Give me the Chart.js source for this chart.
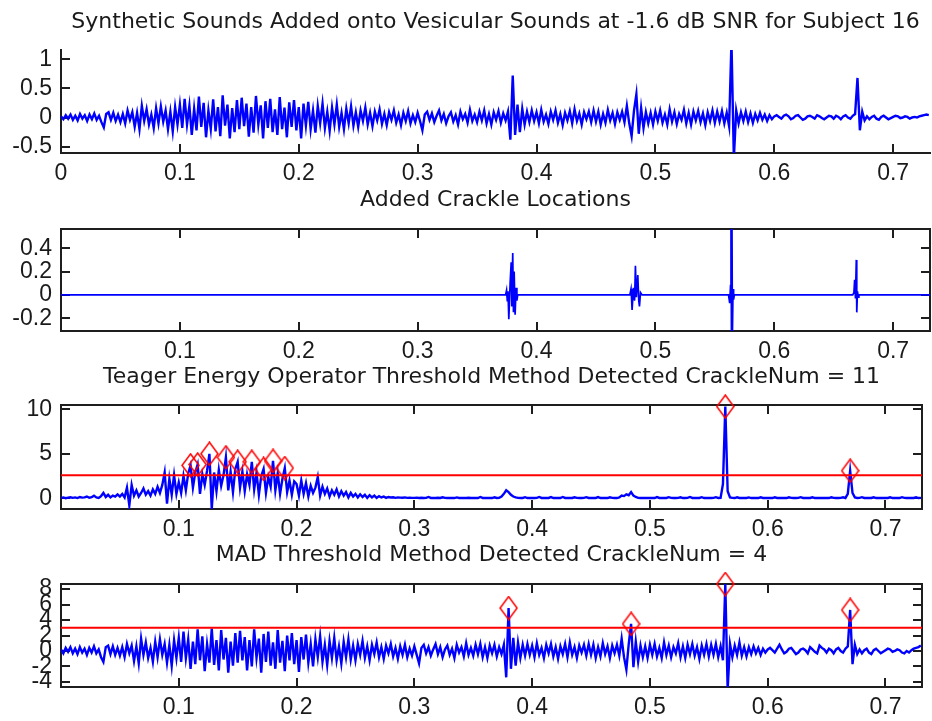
<!DOCTYPE html>
<html lang="en">
<head>
<meta charset="UTF-8">
<title>Crackle detection on vesicular sounds</title>
<script src="https://cdn.jsdelivr.net/npm/chart.js"></script>
<style>
  html, body { margin: 0; padding: 0; background: #ffffff; overflow: hidden; }
  canvas { position: absolute; left: 0; }
</style>
</head>
<body>
<canvas id="mixChart" width="932" height="186" style="top:0px"></canvas>
<canvas id="crackleChart" width="932" height="180" style="top:186px"></canvas>
<canvas id="teoChart" width="932" height="178" style="top:366px"></canvas>
<canvas id="madChart" width="932" height="177" style="top:544px"></canvas>

<script>
// sample spacing (s) of the hand-read traces below, 25 samples per row = 0.05 s
const dt = 0.002;

// panel 1: crackles added onto vesicular sound
const mixedSignal = [
  0.02,-0.03,0.04,-0.02,0.05,-0.04,0.03,-0.05,0.06,-0.02,0.04,-0.06,0.05,-0.03,0.07,-0.04,0.03,-0.08,-0.17,0.06,0.09,-0.04,0.08,-0.06,0.05,
  -0.08,0.06,-0.1,0.12,-0.04,0.09,-0.16,0.08,-0.2,0.2,-0.06,0.14,-0.12,0.05,-0.18,0.16,-0.1,0.19,-0.07,0.12,-0.2,0.1,-0.24,0.18,-0.12,
  0.22,-0.18,0.32,-0.12,0.2,-0.3,0.15,-0.22,0.36,-0.16,0.25,-0.34,0.12,-0.2,0.31,-0.24,0.18,-0.32,0.38,-0.14,0.22,-0.36,0.16,-0.25,0.3,
  -0.2,0.34,-0.15,0.24,-0.33,0.18,-0.26,0.37,-0.12,0.21,-0.36,0.28,-0.18,0.32,-0.25,0.14,-0.3,0.35,-0.2,0.17,-0.34,0.26,-0.16,0.3,-0.22,
  0.18,-0.36,0.24,-0.14,0.27,-0.2,0.12,-0.26,0.2,-0.1,0.24,-0.18,0.1,-0.23,0.17,-0.12,0.22,-0.16,0.08,-0.2,0.15,-0.1,0.19,-0.14,0.09,
  -0.16,0.12,-0.06,0.17,-0.12,0.08,-0.15,0.1,-0.05,0.14,-0.11,0.06,-0.13,0.09,-0.04,0.12,-0.09,0.05,-0.13,0.08,-0.06,0.11,-0.1,0.04,-0.08,
  0.08,-0.06,-0.22,0.05,0.1,-0.04,0.07,-0.08,0.03,0.12,-0.05,0.06,-0.1,0.02,0.09,-0.07,0.04,-0.12,0.1,-0.03,0.06,-0.09,0.13,-0.06,0.05,
  -0.08,0.1,-0.05,0.12,-0.1,0.06,-0.12,0.09,-0.04,0.11,-0.09,0.07,-0.05,0.1,-0.38,0.72,-0.3,0.22,-0.25,0.15,-0.12,0.1,-0.08,0.12,-0.06,
  0.09,-0.1,0.13,-0.07,0.05,-0.11,0.1,-0.04,0.12,-0.09,0.06,-0.13,0.08,-0.05,0.11,-0.1,0.14,-0.06,0.07,-0.12,0.09,-0.03,0.1,-0.08,0.12,
  -0.07,0.1,-0.12,0.06,-0.09,0.13,-0.05,0.08,-0.11,0.09,-0.04,0.1,-0.08,0.2,-0.1,-0.32,0.12,0.4,-0.28,0.16,-0.18,0.09,-0.1,0.08,-0.12,
  0.1,-0.06,0.12,-0.09,0.05,-0.12,0.14,-0.07,0.09,-0.11,0.06,-0.04,0.13,-0.1,0.08,-0.12,0.1,-0.05,0.11,-0.08,0.07,-0.13,0.09,-0.06,0.12,
  -0.09,0.1,-0.07,0.11,-0.1,0.08,-0.15,1.3,-0.7,0.12,-0.1,0.09,-0.06,0.1,-0.08,0.07,-0.09,0.06,-0.05,0.08,-0.04,0.05,-0.06,0.04,-0.03,
  0.02,0.04,0.01,-0.02,0.03,0.05,0.02,-0.03,-0.01,0.03,0.04,0.0,-0.04,-0.02,0.02,0.03,0.01,-0.02,0.04,0.02,-0.01,-0.03,0.0,0.03,0.02,
  -0.02,0.03,0.01,-0.03,0.02,0.04,0.0,-0.02,0.03,0.06,0.68,-0.22,0.1,-0.05,0.02,-0.03,0.01,0.03,-0.02,-0.04,0.01,0.03,0.0,-0.03,-0.01,
  0.01,0.03,0.02,-0.01,0.0,0.02,0.01,-0.02,0.0,0.01,0.0,0.02,0.03,0.04,0.05,0.04
];

// panel 2: the synthetic crackles alone (time, amplitude)
const crackleT = [0,
  0.3740,0.3748,0.3754,0.3760,0.3767,0.3778,0.3787,0.3792,0.3800,0.3806,0.3812,0.3820,0.3828,0.3835,0.3842,
  0.4785,0.4795,0.4800,0.4804,0.4815,0.4825,0.4832,0.4840,0.4852,0.4860,0.4866,0.4875,0.4888,
  0.5615,0.5625,0.5632,0.5636,0.5640,0.5644,0.5648,0.5653,0.5658,0.5664,
  0.6660,0.6670,0.6676,0.6683,0.6690,0.6694,0.6700,0.6706,0.6712,
  0.731];
const crackleY = [0,
  0,0.04,-0.05,0.03,-0.21,0.1,0.28,-0.1,0.36,-0.15,0.2,-0.17,0.06,-0.05,0,
  0,0.05,-0.04,-0.13,0.06,-0.05,0.25,-0.02,0.17,-0.05,-0.1,0.02,0,
  0,-0.07,0.08,0.7,-0.4,0.7,-0.35,0.05,-0.04,0,
  0,0.02,0.13,-0.03,0.3,-0.15,0.03,-0.02,0,
  0];

// panel 3: Teager energy operator output
const teoSignal = [
  0.05,0.1,0.02,0.08,0.12,0.05,0.1,0.03,0.15,0.08,0.1,0.2,0.06,0.12,0.3,0.1,0.05,0.25,0.6,0.15,0.4,0.1,0.3,0.2,0.45,
  0.2,0.5,0.1,1.2,-0.8,1.5,0.3,0.9,0.2,0.6,1.1,0.4,0.8,0.3,1.0,0.5,1.3,0.6,1.5,2.9,-0.6,2.2,0.4,2.6,0.5,
  1.8,0.6,2.5,0.9,2.8,3.7,1.2,2.9,3.8,0.5,2.7,1.5,3.1,5.0,-1.2,2.9,0.8,3.2,1.4,2.6,4.6,0.9,3.0,0.7,3.3,
  4.1,1.2,3.0,0.8,2.7,1.5,4.1,1.0,2.9,0.4,2.5,3.3,0.6,2.4,1.3,4.2,0.9,2.8,0.5,2.2,3.4,0.7,2.0,0.4,1.9,
  1.6,0.3,2.0,0.5,1.7,0.2,1.4,0.6,1.2,2.4,0.3,1.3,0.5,1.1,0.2,0.9,0.4,1.0,0.2,0.8,0.3,0.7,0.1,0.6,0.2,
  0.5,0.1,0.45,0.15,0.4,0.05,0.35,0.1,0.3,0.05,0.25,0.1,0.2,0.05,0.15,0.1,0.12,0.05,0.1,0.08,0.06,0.1,0.05,0.08,0.05,
  0.05,0.08,0.04,0.06,0.03,0.05,0.15,0.04,0.05,0.03,0.06,0.04,0.12,0.05,0.03,0.04,0.05,0.03,0.1,0.04,0.05,0.03,0.04,0.06,0.03,
  0.04,0.05,0.03,0.15,0.04,0.03,0.05,0.04,0.03,0.12,0.04,0.05,0.2,0.5,0.9,0.7,0.4,0.2,0.1,0.05,0.03,0.04,0.13,0.03,0.05,
  0.04,0.03,0.05,0.15,0.04,0.03,0.05,0.04,0.14,0.03,0.05,0.04,0.03,0.15,0.04,0.05,0.03,0.04,0.12,0.05,0.03,0.04,0.05,0.13,0.04,
  0.03,0.05,0.04,0.14,0.03,0.05,0.04,0.03,0.12,0.05,0.04,0.03,0.1,0.3,0.25,0.45,0.35,0.7,0.3,0.15,0.05,0.04,0.03,0.05,0.04,
  0.05,0.04,0.03,0.14,0.04,0.05,0.03,0.04,0.13,0.05,0.03,0.04,0.05,0.12,0.03,0.04,0.05,0.15,0.04,0.03,0.05,0.04,0.13,0.03,0.05,
  0.04,0.03,0.05,0.13,0.04,0.05,1.6,10.3,0.8,0.1,0.05,0.03,0.12,0.04,0.05,0.03,0.04,0.1,0.03,0.05,0.04,0.03,0.12,0.04,0.05,
  0.04,0.05,0.03,0.12,0.04,0.03,0.05,0.04,0.03,0.12,0.05,0.04,0.03,0.05,0.13,0.04,0.03,0.05,0.04,0.12,0.03,0.05,0.04,0.03,0.05,
  0.04,0.03,0.12,0.05,0.04,0.03,0.05,0.12,0.04,0.5,3.1,0.6,0.1,0.04,0.05,0.13,0.04,0.03,0.05,0.04,0.12,0.03,0.05,0.04,0.03,
  0.05,0.04,0.12,0.03,0.05,0.04,0.03,0.13,0.05,0.04,0.03,0.05,0.04,0.12,0.03,0.05
];
const teoThreshold = 2.6;
const teoPeakT = [0.110, 0.116, 0.126, 0.140, 0.150, 0.162, 0.172, 0.180, 0.190, 0.564, 0.670];
const teoPeakY = [3.7, 3.8, 5.0, 4.6, 4.1, 4.1, 3.3, 4.2, 3.4, 10.3, 3.1];

// panel 4: MAD-normalised signal
const madSignal = [
  0.2,-0.3,0.4,-0.1,0.5,-0.3,0.3,-0.4,0.5,-0.2,0.3,-0.5,0.4,-0.2,0.6,-0.3,0.2,-0.8,-1.4,0.5,0.7,-0.4,0.6,-0.5,0.4,
  -0.6,0.5,-0.8,0.9,-0.3,0.7,-1.3,0.6,-1.6,1.6,-0.5,1.1,-0.9,0.4,-1.4,1.2,-0.8,1.5,-0.5,0.9,-1.5,0.8,-1.9,1.4,-0.9,
  1.7,-1.4,2.5,-0.9,1.5,-2.3,1.2,-1.7,2.8,-1.2,1.9,-2.6,0.9,-1.5,2.9,-1.8,1.4,-2.5,2.7,-1.1,1.7,-2.8,1.2,-1.9,2.3,
  -1.5,2.6,-1.2,1.8,-2.5,1.4,-2.0,2.8,-0.9,1.6,-2.8,2.2,-1.4,2.5,-1.9,1.1,-2.3,2.7,-1.5,1.3,-2.6,2.0,-1.2,2.3,-1.7,
  1.4,-2.7,1.8,-1.1,2.1,-1.5,0.9,-2.0,1.5,-0.8,1.9,-1.4,0.8,-1.8,1.3,-0.9,1.7,-1.2,0.6,-1.6,1.2,-0.8,1.5,-1.1,0.7,
  -1.2,0.9,-0.5,1.3,-0.9,0.6,-1.2,0.8,-0.4,1.1,-0.8,0.5,-1.0,0.7,-0.3,0.9,-0.7,0.4,-1.0,0.6,-0.5,0.8,-0.8,0.3,-0.6,
  0.6,-0.5,-1.6,0.4,0.8,-0.3,0.5,-0.6,0.2,0.9,-0.4,0.5,-0.8,0.2,0.7,-0.5,0.3,-0.9,0.8,-0.2,0.5,-0.7,1.0,-0.5,0.4,
  -0.6,0.8,-0.4,0.9,-0.8,0.5,-0.9,0.7,-0.3,0.8,-0.7,0.5,-0.4,0.8,-3.4,5.55,-2.3,1.7,-1.9,1.1,-0.9,0.8,-0.6,0.9,-0.5,
  0.7,-0.8,1.0,-0.5,0.4,-0.9,0.8,-0.3,0.9,-0.7,0.5,-1.0,0.6,-0.4,0.9,-0.8,1.1,-0.5,0.5,-0.9,0.7,-0.2,0.8,-0.6,0.9,
  -0.5,0.8,-0.9,0.5,-0.7,1.0,-0.4,0.6,-0.9,0.7,-0.3,0.8,-0.6,1.6,-0.8,-2.4,0.9,3.5,-2.1,1.2,-1.4,0.7,-0.8,0.6,-0.9,
  0.8,-0.5,0.9,-0.7,0.4,-0.9,1.1,-0.5,0.7,-0.8,0.5,-0.3,1.0,-0.8,0.6,-0.9,0.8,-0.4,0.9,-0.6,0.5,-1.0,0.7,-0.5,0.9,
  -0.7,0.8,-0.5,0.9,-0.8,0.6,-1.2,8.65,-5.0,0.9,-0.8,0.7,-0.5,1.1,-0.6,0.5,-0.7,0.5,-0.4,0.6,-0.3,0.4,-0.5,0.3,-0.2,
  0.2,0.4,0.1,-0.2,0.3,0.8,0.2,-0.3,-0.1,0.3,0.4,0.0,-0.4,-0.2,0.2,0.3,0.1,-0.3,0.5,0.2,-0.1,-0.3,0.7,0.4,0.2,
  -0.2,0.3,0.1,-0.3,0.2,0.4,0.0,-0.2,0.3,0.6,5.3,-1.7,0.8,-0.4,0.2,-0.3,0.1,0.3,-0.2,-0.4,0.1,0.3,0.0,-0.3,-0.1,
  0.1,0.3,0.2,-0.1,0.0,0.2,0.1,-0.2,-0.3,0.0,-0.2,0.1,0.3,0.4,0.5,0.7
];
const madThreshold = 3.0;
const madPeakT = [0.380, 0.484, 0.564, 0.670];
const madPeakY = [5.55, 3.5, 8.65, 5.3];

// axes
const X_MIN = 0, X_MAX = 0.731;
const xTicksFirst = [0, 0.1, 0.2, 0.3, 0.4, 0.5, 0.6, 0.7];
const xTicks = [0.1, 0.2, 0.3, 0.4, 0.5, 0.6, 0.7];
const yTicksMixed = [-0.5, 0, 0.5, 1];
const yTicksCrackle = [-0.2, 0, 0.2, 0.4];
const yTicksTeo = [0, 5, 10];
const yTicksMad = [-4, -2, 0, 2, 4, 6, 8];

const titles = [
  'Synthetic Sounds Added onto Vesicular Sounds at -1.6 dB SNR for Subject 16',
  'Added Crackle Locations',
  'Teager Energy Operator Threshold Method Detected CrackleNum = 11',
  'MAD Threshold Method Detected CrackleNum = 4'
];

const BLUE = '#0000ff';
const RED = '#ff0000';
const AXIS_COLOR = '#1e1e1e';
const TEXT_COLOR = '#1a1a1a';
const TICK_LEN = 9;
const TICK_FONT = { family: "'Liberation Sans', Arial, sans-serif", size: 23 };
const TITLE_FONT = { family: "'DejaVu Sans', sans-serif", size: 22, weight: 'normal', lineHeight: 1 };

function toPoints(values) {
  return values.map((v, i) => ({ x: i * dt, y: v }));
}
function pairPoints(ts, ys) {
  return ts.map((t, i) => ({ x: t, y: ys[i] }));
}

// hollow red diamond, taller than wide like the matlab 'd' marker
function diamondMarker(w, h) {
  const c = document.createElement('canvas');
  c.width = w; c.height = h;
  const g = c.getContext('2d');
  g.strokeStyle = RED;
  g.lineWidth = 1.5;
  g.beginPath();
  g.moveTo(w / 2, 1);
  g.lineTo(w - 1, h / 2);
  g.lineTo(w / 2, h - 1);
  g.lineTo(1, h / 2);
  g.closePath();
  g.stroke();
  return c;
}
const DIAMOND = diamondMarker(19, 25);

// matlab style tick marks pointing into the axes box, on every axis of the chart
const inwardTicks = {
  id: 'inwardTicks',
  beforeDatasetsDraw(chart) {
    const ctx = chart.ctx;
    ctx.save();
    ctx.strokeStyle = AXIS_COLOR;
    ctx.lineWidth = 2;
    Object.values(chart.scales).forEach(scale => {
      scale.ticks.forEach(t => {
        const p = Math.round(scale.getPixelForValue(t.value));
        ctx.beginPath();
        if (scale.position === 'bottom') { ctx.moveTo(p, scale.top); ctx.lineTo(p, scale.top - TICK_LEN); }
        else if (scale.position === 'top') { ctx.moveTo(p, scale.bottom); ctx.lineTo(p, scale.bottom + TICK_LEN); }
        else if (scale.position === 'left') { ctx.moveTo(scale.right, p); ctx.lineTo(scale.right + TICK_LEN, p); }
        else { ctx.moveTo(scale.left, p); ctx.lineTo(scale.left - TICK_LEN, p); }
        ctx.stroke();
      });
    });
    ctx.restore();
  }
};

function traceSet(points, width) {
  return { data: points, borderColor: BLUE, borderWidth: width, pointRadius: 0, tension: 0, fill: false };
}
function thresholdSet(level) {
  return { data: pairPoints([X_MIN, X_MAX], [level, level]), borderColor: RED, borderWidth: 2, pointRadius: 0, fill: false };
}
function peakSet(ts, ys) {
  return { data: pairPoints(ts, ys), showLine: false, pointStyle: DIAMOND, pointRadius: 9, clip: false };
}

function fixedTicks(values) {
  return function (scale) { scale.ticks = values.map(v => ({ value: v })); };
}
function axisGrid() {
  return { drawOnChartArea: false, drawTicks: false, color: AXIS_COLOR };
}
function axisBorder() {
  return { color: AXIS_COLOR, width: 2 };
}

function makePanel(canvasId, p) {
  const scales = {
    x: {
      type: 'linear', position: 'bottom', min: X_MIN, max: X_MAX,
      afterBuildTicks: fixedTicks(p.xTicks),
      afterFit: s => { s.height = p.xAxisHeight; },
      grid: axisGrid(), border: axisBorder(),
      ticks: { color: TEXT_COLOR, font: TICK_FONT, padding: 7, maxRotation: 0, autoSkip: false, callback: v => String(v) }
    },
    y: {
      type: 'linear', position: 'left', min: p.yMin, max: p.yMax,
      afterBuildTicks: fixedTicks(p.yTicks),
      afterFit: s => { s.width = 61; },
      grid: axisGrid(), border: axisBorder(),
      ticks: { color: TEXT_COLOR, font: TICK_FONT, padding: 9, autoSkip: false, callback: v => String(v) }
    }
  };
  if (p.box) {
    scales.x2 = {
      type: 'linear', position: 'top', min: X_MIN, max: X_MAX,
      afterBuildTicks: fixedTicks(p.xTicks),
      afterFit: s => { s.height = 0; },
      grid: axisGrid(), border: axisBorder(), ticks: { display: false }
    };
    scales.y2 = {
      type: 'linear', position: 'right', min: p.yMin, max: p.yMax,
      afterBuildTicks: fixedTicks(p.yTicks),
      afterFit: s => { s.width = 0; },
      grid: axisGrid(), border: axisBorder(), ticks: { display: false }
    };
  }
  return new Chart(document.getElementById(canvasId), {
    type: 'line',
    data: { datasets: p.datasets },
    plugins: [inwardTicks],
    options: {
      responsive: false,
      animation: false,
      events: [],
      layout: { padding: { left: 0, right: 2, top: 0, bottom: 0 } },
      scales: scales,
      plugins: {
        legend: { display: false },
        tooltip: { enabled: false },
        title: { display: true, text: p.title, fullSize: false, color: TEXT_COLOR, font: TITLE_FONT, padding: p.titlePad }
      }
    }
  });
}

makePanel('mixChart', {
  title: titles[0], titlePad: { top: 11, bottom: 17 }, xAxisHeight: 33, box: false,
  xTicks: xTicksFirst, yTicks: yTicksMixed, yMin: -0.61, yMax: 1.16,
  datasets: [traceSet(toPoints(mixedSignal), 2.4)]
});

makePanel('crackleChart', {
  title: titles[1], titlePad: { top: 3, bottom: 18 }, xAxisHeight: 35, box: true,
  xTicks: xTicks, yTicks: yTicksCrackle, yMin: -0.31, yMax: 0.565,
  datasets: [traceSet(pairPoints(crackleT, crackleY), 1.7)]
});

makePanel('teoChart', {
  title: titles[2], titlePad: { top: 0, bottom: 17 }, xAxisHeight: 35, box: true,
  xTicks: xTicks, yTicks: yTicksTeo, yMin: -1.2, yMax: 10.48,
  datasets: [peakSet(teoPeakT, teoPeakY), thresholdSet(teoThreshold), traceSet(toPoints(teoSignal), 2.4)]
});

makePanel('madChart', {
  title: titles[3], titlePad: { top: 0, bottom: 18 }, xAxisHeight: 34, box: true,
  xTicks: xTicks, yTicks: yTicksMad, yMin: -4.65, yMax: 8.65,
  datasets: [peakSet(madPeakT, madPeakY), thresholdSet(madThreshold), traceSet(toPoints(madSignal), 2.4)]
});
</script>
</body>
</html>
